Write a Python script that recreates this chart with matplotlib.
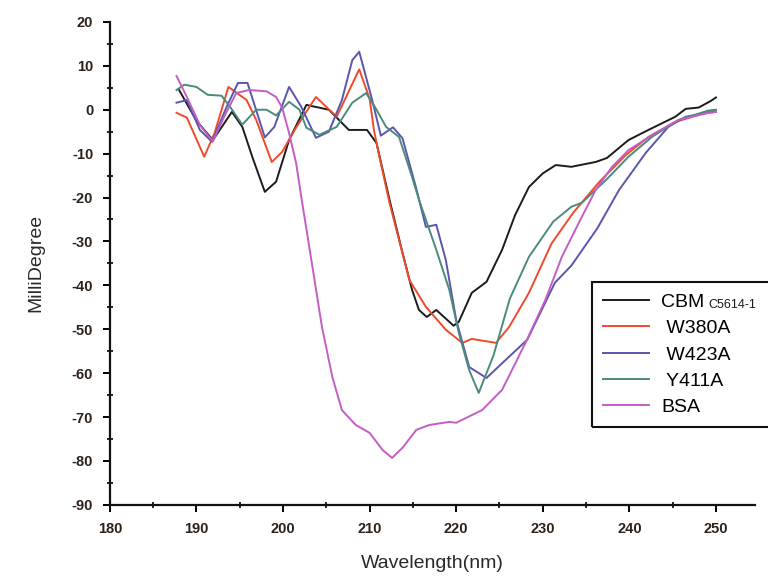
import matplotlib
matplotlib.use('Agg')
import matplotlib.pyplot as plt
from matplotlib.patches import Rectangle
from matplotlib.ticker import MultipleLocator

plt.rcParams['font.family'] = ['Liberation Sans', 'DejaVu Sans']
plt.rcParams['axes.unicode_minus'] = False

# CD spectra
cbm_wl = [188, 190, 191.9, 194.1, 195.3, 196.5, 197.9, 199.2, 200.7, 202.7, 205.3,
          207.6, 209.7, 210.8, 212.3, 213.8, 214.9, 215.7, 216.6, 217.7, 219.7,
          220.3, 221.8, 223.5, 225.3, 226.8, 228.4, 230, 231.5, 233.3, 236.1,
          237.4, 239.9, 242.2, 245.3, 246.5, 248, 249.4, 250]
cbm_md = [4.5, -2.5, -6.9, -0.5, -3.9, -11, -18.7, -16.4, -6.9, 1.1, 0,
          -4.6, -4.6, -7.6, -20.5, -32.6, -41, -45.6, -47.2, -45.6, -49.2,
          -48.3, -41.7, -39.2, -31.9, -24, -17.6, -14.5, -12.6, -13, -11.9,
          -11, -6.9, -4.6, -1.6, 0.2, 0.5, 2.0, 2.8]

w380_wl = [187.7, 188.9, 190.9, 192.1, 193.7, 195.8, 196.9, 198.7, 199.9, 201.5,
           203.8, 206.2, 208.8, 210.0, 210.5, 211.0, 212.3, 214.6, 216.5, 218.8,
           220.7, 221.8, 224.6, 226.1, 228.4, 231.0, 233.5, 236.5, 239.6, 242.2,
           245.3, 249.1, 250]
w380_md = [-0.7, -1.8, -10.7, -5.3, 5.2, 2.2, -2.3, -11.9, -9.6, -4.1,
           2.9, -1.6, 9.2, 2.5, -4.6, -9.5, -21.2, -38.8, -44.9, -50.1,
           -53.1, -52.2, -53.1, -49.5, -41.7, -30.5, -23.5, -16.5, -10.3, -6.2,
           -2.8, -0.5, -0.3]

w423_wl = [187.7, 188.9, 190.4, 191.8, 193.5, 194.8, 195.9, 197.9, 199.0, 200.7,
           202.1, 203.8, 205.3, 206.8, 208.0, 208.8, 210.3, 211.3, 212.7, 213.8,
           215.4, 216.5, 217.7, 218.8, 220.0, 221.5, 223.5, 225.7, 228.2, 231.4,
           233.3, 236.3, 238.8, 241.9, 244.5, 246.5, 249.1, 250]
w423_md = [1.6, 2.2, -4.6, -7.3, 0.7, 6.1, 6.1, -6.3, -3.9, 5.2,
           0.7, -6.4, -5.0, 2.2, 11.3, 13.2, 2.2, -5.9, -4.0, -6.5,
           -18, -26.7, -26.2, -34.2, -47.9, -58.6, -61.1, -57, -52.4, -39.4,
           -35.5, -27, -18.3, -9.8, -3.9, -1.6, -0.7, -0.5]

y411_wl = [187.7, 188.6, 190.0, 191.3, 192.9, 193.8, 195.3, 196.9, 198.1, 199.2,
           200.7, 201.9, 202.7, 204.2, 206.2, 208.0, 209.6, 210.8, 211.9, 213.4,
           214.9, 215.7, 217.7, 219.2, 220.3, 221.5, 222.6, 224.3, 226.2, 228.4,
           231.2, 233.3, 234.5, 237.3, 239.9, 242.6, 245.7, 249.1, 250]
y411_md = [4.5, 5.7, 5.2, 3.4, 3.2, 0.9, -3.4, 0, 0, -1.3,
           1.8, 0, -4.1, -5.7, -3.9, 1.6, 3.8, 0, -3.9, -6.2,
           -15.3, -20.5, -31.9, -41, -50.8, -59.3, -64.5, -56, -43, -33.5,
           -25.5, -22.1, -21.2, -16, -10.7, -6.2, -2.3, -0.2, 0]

bsa_wl = [187.7, 188.9, 190.4, 191.9, 193.2, 194.6, 196.1, 198.1, 199.2, 199.9,
          200.7, 201.5, 202.2, 203.4, 204.5, 205.7, 206.8, 208.4, 210.0, 211.5,
          212.6, 213.8, 215.4, 216.9, 219.2, 220.0, 223.0, 225.3, 228.0, 230.3,
          232.2, 234.1, 236.1, 238.0, 239.9, 243.0, 245.7, 249.1, 250]
bsa_md = [7.7, 2.9, -3.5, -7.2, -1.6, 3.8, 4.5, 4.2, 2.9, 0.5,
          -5.3, -12, -21, -35.8, -49.5, -60.9, -68.4, -71.8, -73.6, -77.5,
          -79.3, -77, -72.9, -71.8, -71.1, -71.3, -68.4, -63.8, -53.1, -43.3,
          -33.5, -26, -18.3, -13, -9.2, -5.3, -2.3, -0.7, -0.5]

labels = ['CBM', ' W380A', ' W423A', ' Y411A', 'BSA']
colors = ['#1c1c1c', '#ef4a2c', '#5a56ae', '#4a8b7c', '#c45ec4']

fig = plt.figure(figsize=(7.68, 5.77), dpi=100)
ax = fig.add_axes([0.143, 0.125, 0.84, 0.837])

series = [(cbm_wl, cbm_md), (w380_wl, w380_md), (w423_wl, w423_md),
          (y411_wl, y411_md), (bsa_wl, bsa_md)]
for (wl, md), lab, col in zip(series, labels, colors):
    ax.plot(wl, md, color=col, lw=1.4, label=lab)

ax.set_xlim(180, 254.5)
ax.set_ylim(-90, 20)
ax.xaxis.set_major_locator(MultipleLocator(10))
ax.xaxis.set_minor_locator(MultipleLocator(5))
ax.yaxis.set_major_locator(MultipleLocator(10))
ax.yaxis.set_minor_locator(MultipleLocator(5))

for s in ['top', 'right']:
    ax.spines[s].set_visible(False)
for s in ['left', 'bottom']:
    ax.spines[s].set_linewidth(1.6)
    ax.spines[s].set_color('#111111')

ax.tick_params(which='major', direction='out', length=5, width=1.4,
               labelsize=10.5, labelcolor='#2e2119', pad=7)
ax.tick_params(which='minor', direction='inout', length=4, width=1.2)
for t in ax.get_xticklabels() + ax.get_yticklabels():
    t.set_fontweight('bold')

ax.set_xlabel('Wavelength(nm)', fontsize=14, color='#2a2a2a', labelpad=14)
ax.set_ylabel('MilliDegree', fontsize=14, color='#2a2a2a', labelpad=20)

leg = ax.legend(loc='upper left', bbox_to_anchor=(0.777, 0.502),
                bbox_transform=fig.transFigure, fontsize=14, frameon=False,
                handlelength=2.4, handletextpad=0.6, labelspacing=0.45,
                borderpad=0.3, borderaxespad=0)
for line in leg.get_lines():
    line.set_linewidth(1.4)

# the box in the original runs off the right edge, so draw it by hand
fig.canvas.draw()
r = fig.canvas.get_renderer()
lb = leg.get_window_extent(r)
W, H = fig.bbox.width, fig.bbox.height
pad = 5
fig.add_artist(Rectangle(((lb.x0 - pad) / W, (lb.y0 - pad) / H),
                         1.1, (lb.height + 2 * pad) / H,
                         transform=fig.transFigure, fill=False,
                         lw=1.5, edgecolor='#111111', clip_on=False))

# small "C5614-1" tag right after "CBM"
bb = leg.get_texts()[0].get_window_extent(r)
fig.text((bb.x1 + 4) / W, bb.y0 / H, 'C5614-1',
         fontsize=9, va='bottom', ha='left', color='#1a1a1a')

fig.savefig('out.png', dpi=100)
